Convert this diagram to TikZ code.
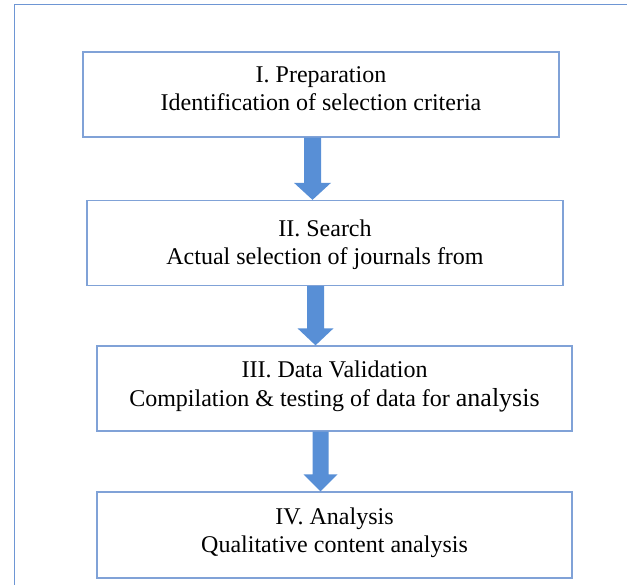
\documentclass[tikz,border=0pt]{standalone}
\usepackage{fontspec}
\setmainfont{Liberation Serif}
\usetikzlibrary{calc}
\definecolor{framec}{RGB}{110,150,212}
\definecolor{boxc}{RGB}{128,162,215}
\definecolor{arrowc}{RGB}{88,143,214}
\tikzset{
  stagebox/.style={draw=boxc, line width=1.3pt, fill=white, minimum width=476pt, minimum height=85pt, inner sep=0pt},
  stagetext/.style={anchor=base, inner sep=0pt, font=\fontsize{24}{28}\selectfont},
  frameline/.style={draw=framec, line width=1.3pt}
}
% block arrow: #1 centre x, #2 upper box, #3 lower box, #4 shaft half width, #5 head half width, #6 head length
\newcommand\stagearrow[6]{%
  \fill[arrowc] let \p1=(#2.south), \p2=(#3.north) in
    ({#1pt-#4pt},\y1) -- ({#1pt+#4pt},\y1) -- ({#1pt+#4pt},{\y2+#6pt}) --
    ({#1pt+#5pt},{\y2+#6pt}) -- (#1pt,\y2) -- ({#1pt-#5pt},{\y2+#6pt}) --
    ({#1pt-#4pt},{\y2+#6pt}) -- cycle;}
\begin{document}
\begin{tikzpicture}[x=1pt,y=-1pt]
\useasboundingbox (0,0) rectangle (627,585);
% outer frame (top and left edges)
\draw[frameline] (14.5,585) -- (14.5,4.5) -- (627,4.5);

% stage boxes
\node[stagebox] (b1) at (321,94.5) {};
\node[stagebox] (b2) at (325,243) {};
\node[stagebox, minimum width=475pt] (b3) at (334.5,388.5) {};
\node[stagebox, minimum width=475pt, minimum height=86pt] (b4) at (334.5,535) {};

% stage texts
\node[stagetext] (t1a) at (321,83) {I. Preparation};
\node[stagetext] (t1b) at (321,111) {Identification of selection criteria};
\node[stagetext] (t2a) at (325,237) {II. Search};
\node[stagetext] (t2b) at (325,265) {Actual selection of journals from};
\node[stagetext] (t3a) at (334.5,378) {III. Data Validation};
\node[stagetext] (t3b) at (334.5,407) {Compilation \& testing of data for {\fontsize{26}{28}\selectfont analysis}};
\node[stagetext] (t4a) at (334.5,524) {IV. Analysis};
\node[stagetext] (t4b) at (334.5,552) {Qualitative content analysis};

% arrows between stages
\stagearrow{312.5}{b1}{b2}{8.5}{18.5}{17}
\stagearrow{315.5}{b2}{b3}{8.5}{18}{17}
\stagearrow{320.5}{b3}{b4}{8}{17}{17}
\end{tikzpicture}
\end{document}
